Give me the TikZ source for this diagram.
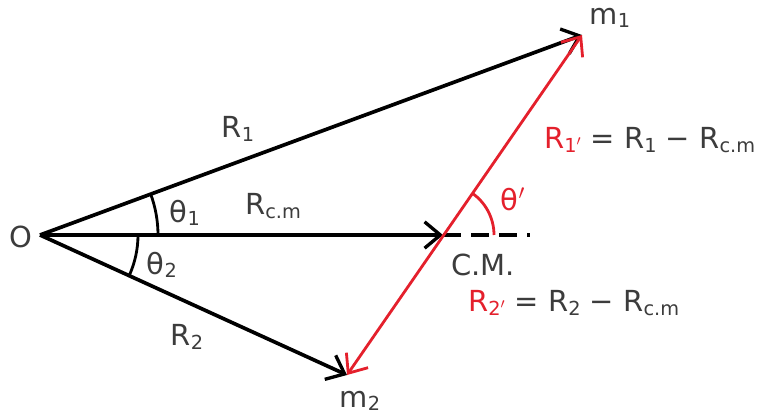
\documentclass[tikz,border=0pt]{standalone}
\usepackage{fontspec}
\setmainfont{DejaVu Sans}
\usetikzlibrary{arrows.meta}
\definecolor{cmred}{RGB}{228,32,44}
\definecolor{txtgray}{RGB}{60,60,60}
\newcommand{\ix}[1]{\raisebox{-0.2ex}{\fontsize{11}{12}\selectfont #1}}
\tikzset{
  vec/.style={line width=2.1pt,-{Straight Barb[length=9pt,width=15pt,line width=1.9pt]}},
  relvec/.style={cmred,line width=1.6pt,{Straight Barb[length=9pt,width=15pt]}-{Straight Barb[length=9pt,width=15pt]}},
  lbl/.style={text=txtgray,font=\fontsize{16.5}{19}\selectfont,inner sep=1pt}
}
\begin{document}
\begin{tikzpicture}
  \useasboundingbox (0,0) rectangle (15.46,8.3);
  \coordinate (O) at (0.8,3.6);
  \coordinate (m1) at (11.64,7.6);
  \coordinate (m2) at (6.94,0.8);
  \coordinate (CM) at (8.86,3.6);
  \coordinate (E) at (10.6,3.6);
  % position vectors
  \draw[vec] (O)--(m1);
  \draw[vec] (O)--(m2);
  \draw[vec] (O)--(CM);
  \draw[line width=1.9pt,dash pattern=on 10pt off 6pt] (CM)--(E);
  % angles
  \draw[line width=1.6pt] ([shift={(0:2.36)}]O) arc (0:20.25:2.36);
  \draw[line width=1.6pt] ([shift={(0:1.96)}]O) arc (0:-24.5:1.96);
  % relative vectors
  \draw[relvec] (m2)--(m1);
  \draw[cmred,line width=1.6pt] ([shift={(0:1.02)}]CM) arc (0:55.35:1.02);
  % labels
  \node[lbl] (lO) at (0.42,3.56) {O};
  \node[lbl] (lm1) at (12.2,7.94) {m\ix{1}};
  \node[lbl] (lm2) at (7.2,0.28) {m\ix{2}};
  \node[lbl] (lR1) at (4.76,5.72) {R\ix{1}};
  \node[lbl] (lR2) at (3.74,1.56) {R\ix{2}};
  \node[lbl] (lRcm) at (5.46,4.18) {R\ix{c.m}};
  \node[lbl] (lt1) at (3.7,4.04) {θ\ix{1}};
  \node[lbl] (lt2) at (3.24,3.0) {θ\ix{2}};
  \node[lbl,text=cmred] (ltp) at (10.26,4.32) {θ$'$};
  \node[lbl] (lCM) at (9.66,3.0) {C.M.};
  \node[lbl,anchor=west] (lrel1) at (10.84,5.5) {\textcolor{cmred}{R\ix{1$'$}} = R\ix{1} − R\ix{c.m}};
  \node[lbl,anchor=west] (lrel2) at (9.32,2.24) {\textcolor{cmred}{R\ix{2$'$}} = R\ix{2} − R\ix{c.m}};
\end{tikzpicture}
\end{document}
